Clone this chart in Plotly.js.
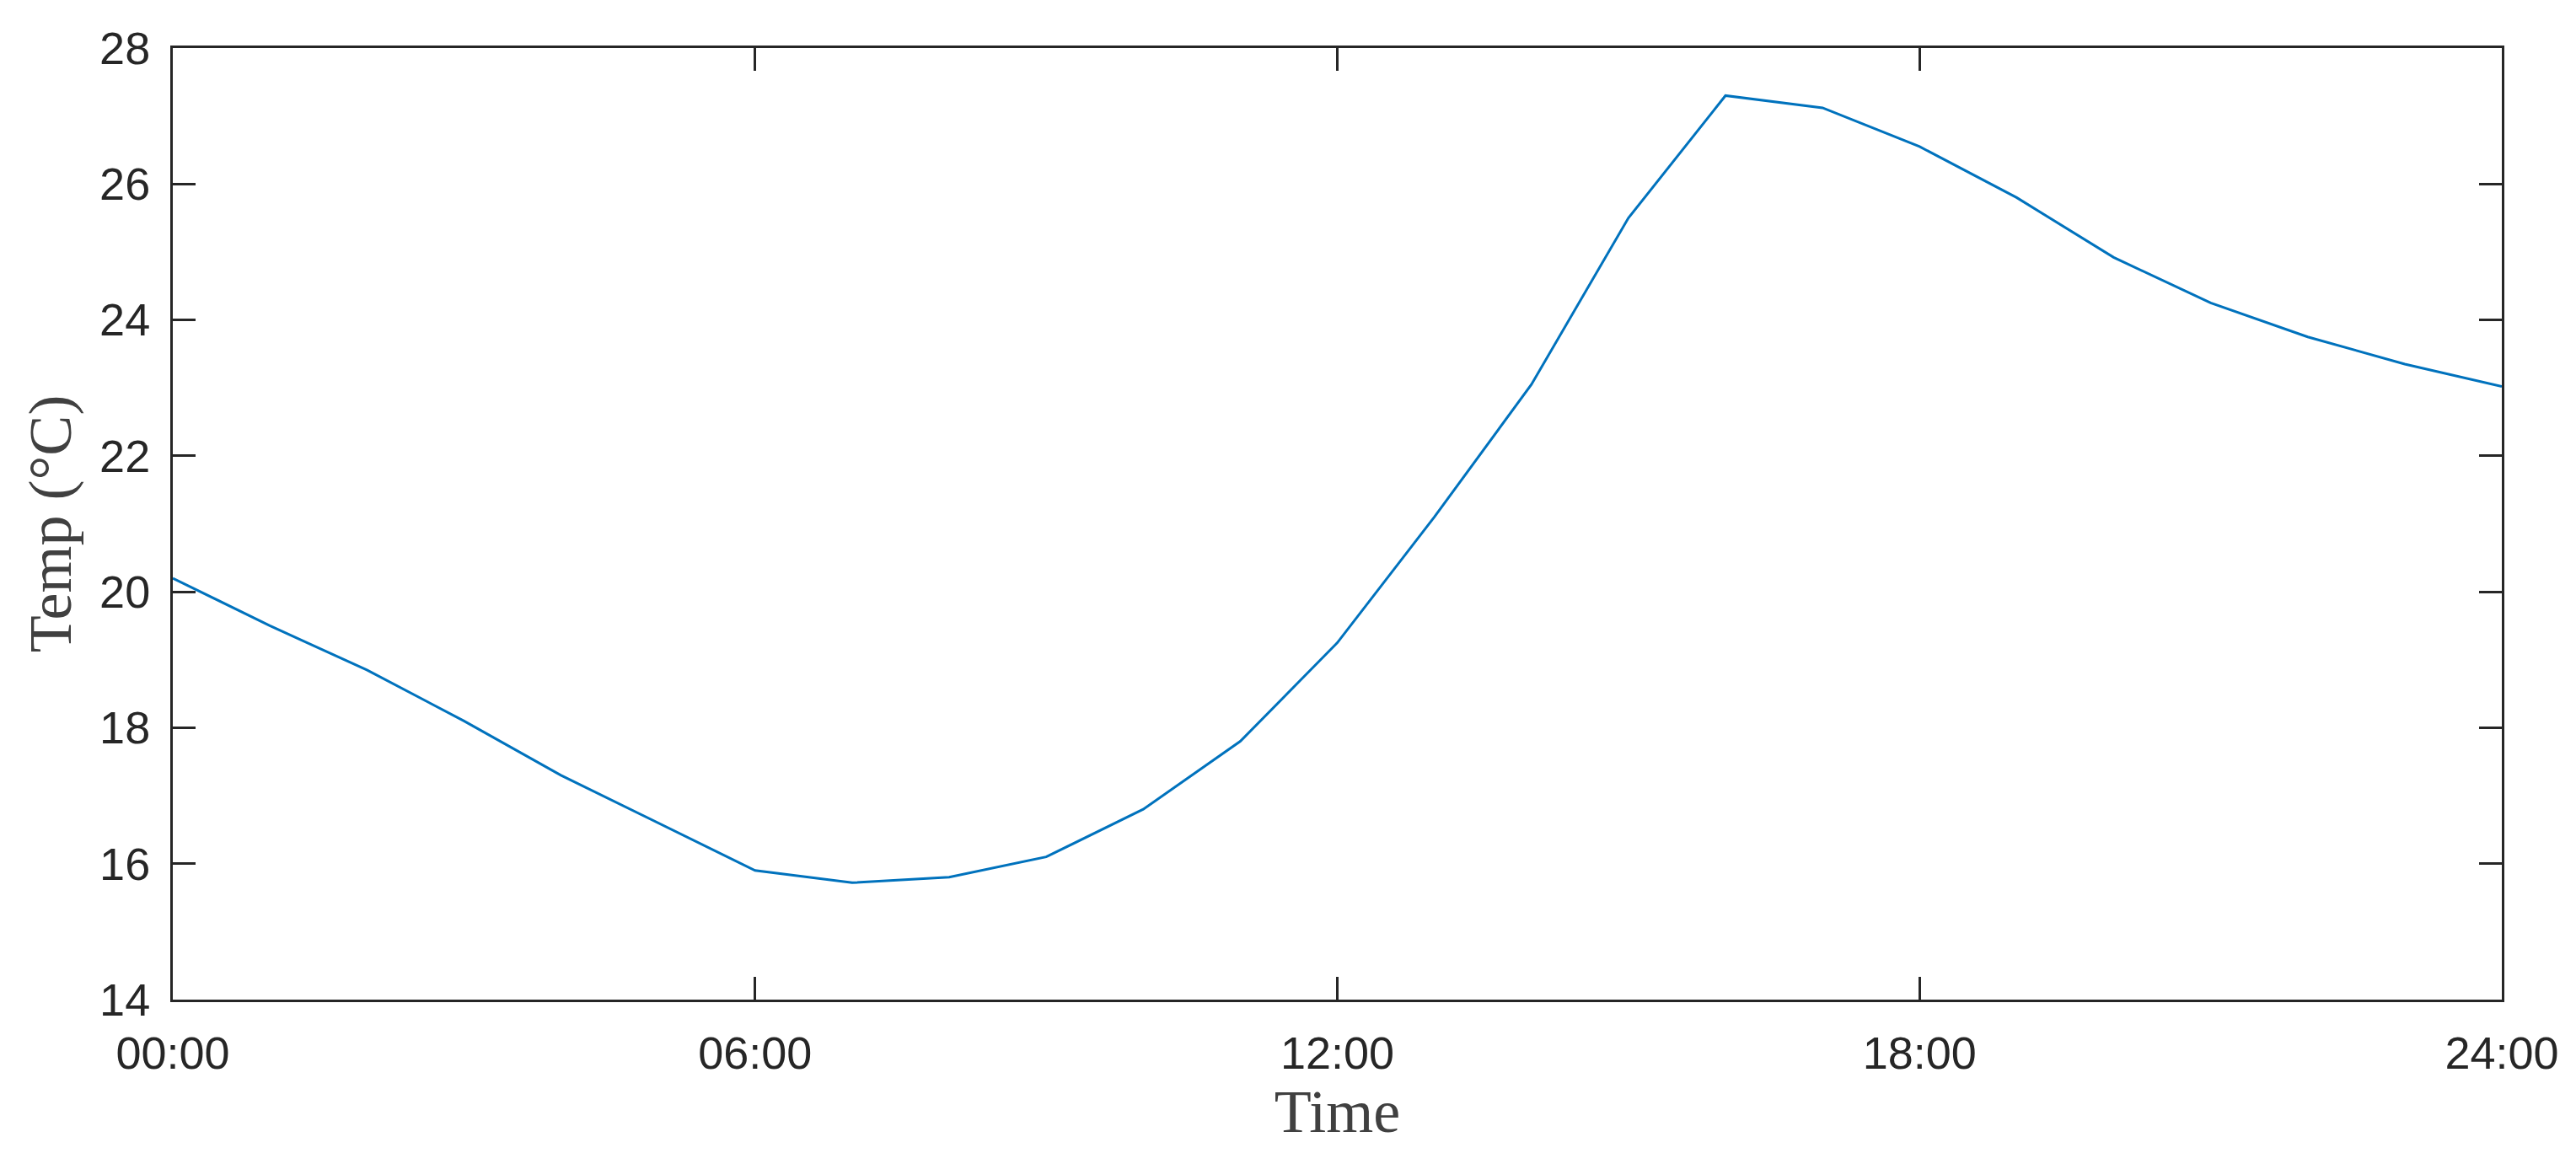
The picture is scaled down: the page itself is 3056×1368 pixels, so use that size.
<!DOCTYPE html>
<html>
<head>
<meta charset="utf-8">
<script src="https://cdn.plot.ly/plotly-3.0.1.min.js"></script>
<style>
  html, body { margin: 0; padding: 0; background: #fff; }
  #temp-plot { width: 3056px; height: 1368px; }
</style>
</head>
<body>
<div id="temp-plot"></div>
<script>
// Hourly temperature readings over one day
const hours = [0, 1, 2, 3, 4, 5, 6, 7, 8, 9, 10, 11, 12, 13, 14, 15, 16, 17, 18, 19, 20, 21, 22, 23, 24];
const temps = [20.2, 19.5, 18.85, 18.1, 17.3, 16.6, 15.9, 15.72, 15.8, 16.1, 16.8, 17.8, 19.25, 21.1, 23.05, 25.5, 27.3, 27.12, 26.55, 25.8, 24.92, 24.25, 23.75, 23.35, 23.02];

// Axis ticks
const timeTicks = [0, 6, 12, 18, 24];
const timeLabels = ['00:00', '06:00', '12:00', '18:00', '24:00'];
const tempTicks = [14, 16, 18, 20, 22, 24, 26, 28];

const axisColor = '#262626';

const trace = {
    x: hours,
    y: temps,
    type: 'scatter',
    mode: 'lines',
    line: { color: '#0072BD', width: 3 },
    hovertemplate: '%{y:.1f} °C<extra></extra>'
};

// MATLAB-like boxed axes with ticks pointing inwards
const commonAxis = {
    showline: true,
    linecolor: axisColor,
    linewidth: 3,
    mirror: 'ticks',
    ticks: 'inside',
    ticklen: 27,
    tickwidth: 3,
    tickcolor: axisColor,
    showgrid: false,
    zeroline: false,
    tickfont: { family: 'Liberation Sans, Arial, sans-serif', size: 54, color: axisColor }
};

const layout = {
    width: 3056,
    height: 1368,
    margin: { l: 205, r: 88, t: 57, b: 182 },
    paper_bgcolor: '#ffffff',
    plot_bgcolor: '#ffffff',
    showlegend: false,
    xaxis: Object.assign({}, commonAxis, {
        range: [0, 24],
        tickmode: 'array',
        tickvals: timeTicks,
        ticktext: timeLabels,
        ticklabelstandoff: 14,
        title: {
            text: 'Time',
            font: { family: 'Liberation Serif, Times New Roman, serif', size: 72, color: '#404040' },
            standoff: 2
        }
    }),
    yaxis: Object.assign({}, commonAxis, {
        range: [14, 28],
        tickmode: 'array',
        tickvals: tempTicks,
        ticklabelstandoff: 13,
        title: {
            text: 'Temp (°C)',
            font: { family: 'Liberation Serif, Times New Roman, serif', size: 72, color: '#404040' },
            standoff: 10
        }
    })
};

Plotly.newPlot('temp-plot', [trace], layout, { displayModeBar: false, staticPlot: true });
</script>
</body>
</html>
